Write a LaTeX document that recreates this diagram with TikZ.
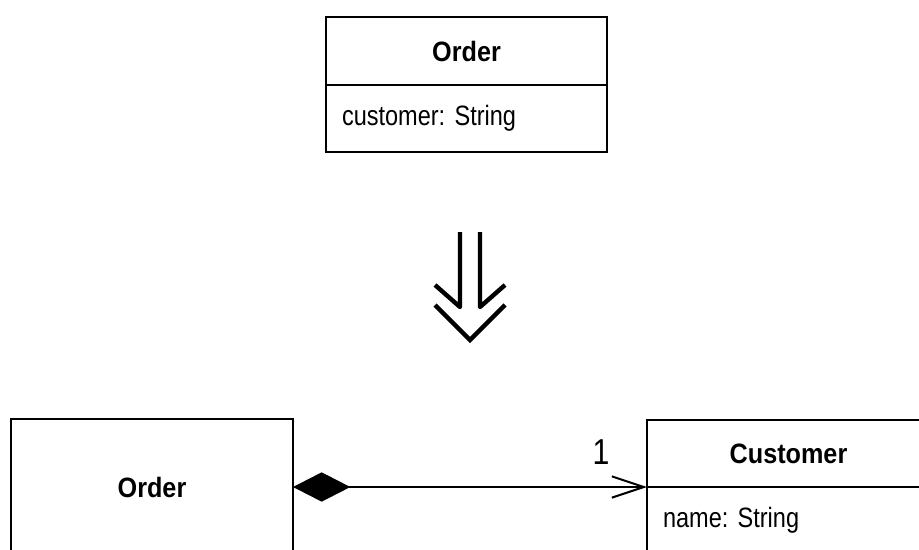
\documentclass[tikz,border=0pt]{standalone}
\usepackage{fontspec}
\setmainfont{Liberation Sans}[FakeStretch=0.84,BoldFeatures={FakeStretch=0.9}]
\usepackage{tikz}
\usetikzlibrary{arrows.meta,positioning}
\newcommand{\umlfont}{\fontsize{21}{25}\selectfont}
\frenchspacing

\begin{document}
\begin{tikzpicture}[x=0.75pt,y=-0.75pt,line width=1.1pt,
                    >={Straight Barb[length=24pt,width=16pt,line width=1.5pt]}]
  \tikzstyle{head}=[draw=black,outer sep=0pt,inner sep=0pt,font=\umlfont\bfseries]
  \tikzstyle{attr}=[draw=black,outer sep=0pt,inner xsep=12pt,inner ysep=0pt,
                    align=left,font=\umlfont]
  \useasboundingbox (0,0) rectangle (919,549);

  % before
  \node[head,minimum width=210.75pt,minimum height=51pt] (orderHd) at (466.5,51) {Order};
  \node[attr,minimum height=50.25pt,text width=186.75pt] (orderAt) [below=0pt of orderHd] {customer: String};

  % refactoring arrow
  \draw[line width=3.3pt,line join=round] (460,232) -- (460,307) -- (435,285);
  \draw[line width=3.3pt,line join=round] (480,232) -- (480,307) -- (505,285);
  \draw[line width=3.3pt,line join=miter] (435,305) -- (470,340) -- (505,305);

  % after
  \node[head,minimum width=211.5pt,minimum height=102pt] (orderBox) at (152,487) {Order};
  \node[head,minimum width=212.25pt,minimum height=50.25pt] (custHd) at (788.5,453.5) {Customer};
  \node[attr,minimum height=50.25pt,text width=188.25pt] (custAt) [below=0pt of custHd] {name: String};

  \draw[{Diamond[length=43pt,width=22pt]}->] (orderBox.east) -- (custHd.south west)
    node[pos=0.87,above=16pt,inner sep=0pt,font=\fontsize{27}{30}\selectfont] {1};
\end{tikzpicture}
\end{document}
